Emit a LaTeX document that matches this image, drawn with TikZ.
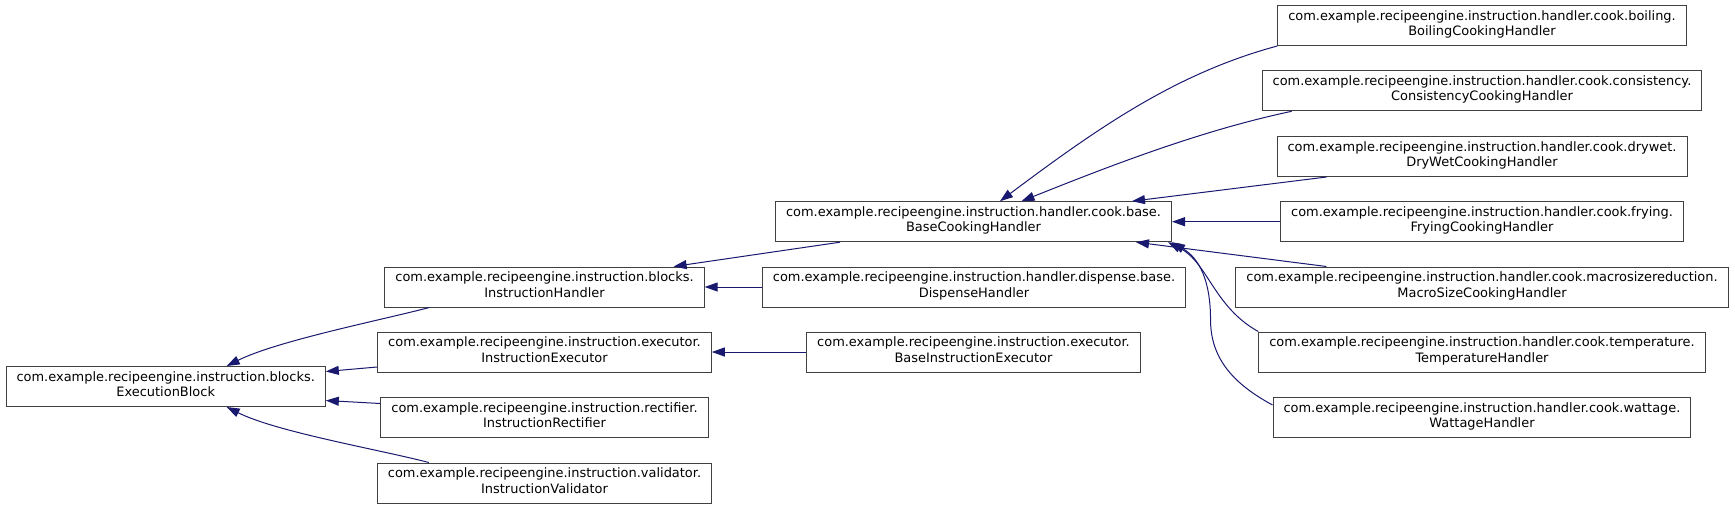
\documentclass[tikz,border=0pt]{standalone}
\usepackage{fontspec}
\setmainfont{DejaVu Sans}
\usetikzlibrary{arrows.meta,calc}
\definecolor{edgeblue}{HTML}{191970}
\definecolor{boxgray}{HTML}{404040}
\newcommand\twolines[2]{\rule{0pt}{10pt}#1\\#2\rule[-5.4pt]{0pt}{5.4pt}}
\begin{document}
\begin{tikzpicture}[x=1pt,y=-1pt,
  cls/.style={draw=boxgray,line width=1pt,fill=white,align=center,inner xsep=10.5pt,inner ysep=0pt,minimum height=40pt,font=\fontsize{12.95pt}{15.6pt}\selectfont},
  edge/.style={draw=edgeblue,line width=1pt,-{Triangle[length=13pt,width=9pt]}}]
\useasboundingbox[fill=white] (0,0) rectangle (1735,509);
% rank 0
\node[cls] (eb) at (165.7,386.5) {\twolines{com.example.recipeengine.instruction.blocks.}{ExecutionBlock}};
% rank 1
\node[cls] (ih) at (544.5,287) {\twolines{com.example.recipeengine.instruction.blocks.}{InstructionHandler}};
\node[cls] (ie) at (544.5,352) {\twolines{com.example.recipeengine.instruction.executor.}{InstructionExecutor}};
\node[cls] (ir) at (544.5,417.5) {\twolines{com.example.recipeengine.instruction.rectifier.}{InstructionRectifier}};
\node[cls] (iv) at (544.5,483) {\twolines{com.example.recipeengine.instruction.validator.}{InstructionValidator}};
% rank 2
\node[cls] (bch) at (973.5,221.7) {\twolines{com.example.recipeengine.instruction.handler.cook.base.}{BaseCookingHandler}};
\node[cls] (dh) at (974,287) {\twolines{com.example.recipeengine.instruction.handler.dispense.base.}{DispenseHandler}};
\node[cls] (bie) at (973.5,352) {\twolines{com.example.recipeengine.instruction.executor.}{BaseInstructionExecutor}};
% rank 3
\node[cls] (boil) at (1482,25.5) {\twolines{com.example.recipeengine.instruction.handler.cook.boiling.}{BoilingCookingHandler}};
\node[cls] (cons) at (1482,90.8) {\twolines{com.example.recipeengine.instruction.handler.cook.consistency.}{ConsistencyCookingHandler}};
\node[cls] (dry) at (1482,156.5) {\twolines{com.example.recipeengine.instruction.handler.cook.drywet.}{DryWetCookingHandler}};
\node[cls] (fry) at (1482,221.7) {\twolines{com.example.recipeengine.instruction.handler.cook.frying.}{FryingCookingHandler}};
\node[cls] (macro) at (1482,287) {\twolines{com.example.recipeengine.instruction.handler.cook.macrosizereduction.}{MacroSizeCookingHandler}};
\node[cls] (temp) at (1482,352) {\twolines{com.example.recipeengine.instruction.handler.cook.temperature.}{TemperatureHandler}};
\node[cls] (watt) at (1482,417.5) {\twolines{com.example.recipeengine.instruction.handler.cook.wattage.}{WattageHandler}};
% edges to ExecutionBlock
\draw[edge] ($(ih.south west)+(45,0)$) .. controls +(-50,13) and +(50,-25) .. ($(eb.north)+(61,0)$);
\draw[edge] ($(ie.west)+(0,15)$) -- ($(eb.east)+(0,-15)$);
\draw[edge] ($(ir.west)+(0,-14)$) -- ($(eb.east)+(0,14)$);
\draw[edge] ($(iv.north west)+(52,0)$) .. controls +(-50,-13) and +(50,25) .. ($(eb.south)+(61,0)$);
% edges to InstructionHandler / InstructionExecutor
\draw[edge] ($(bch.south west)+(65,0)$) -- ($(ih.north east)+(-31,0)$);
\draw[edge] (dh) -- (ih);
\draw[edge] (bie) -- (ie);
% edges to BaseCookingHandler
\draw[edge] (boil.south west) .. controls +(-100,27) and +(100,-75) .. ($(bch.north)+(26.5,0)$);
\draw[edge] ($(cons.south west)+(30,0)$) .. controls +(-90,19) and +(90,-36) .. ($(bch.north)+(48,0)$);
\draw[edge] ($(dry.south west)+(50,0)$) -- ($(bch.north east)+(-40,0)$);
\draw[edge] (fry) -- (bch);
\draw[edge] ($(macro.north west)+(91,0)$) -- ($(bch.south east)+(-36,0)$);
\draw[edge] (temp.north west) .. controls +(-45,-25) and +(40,20) .. ($(bch.south east)+(-4,0)$);
\draw[edge] ($(watt.north west)+(0,8)$) .. controls +(-37,-20) and +(0,40) .. ++(-62,-85) .. controls +(0,-40) and +(27,16) .. (bch.south east);
\end{tikzpicture}
\end{document}
